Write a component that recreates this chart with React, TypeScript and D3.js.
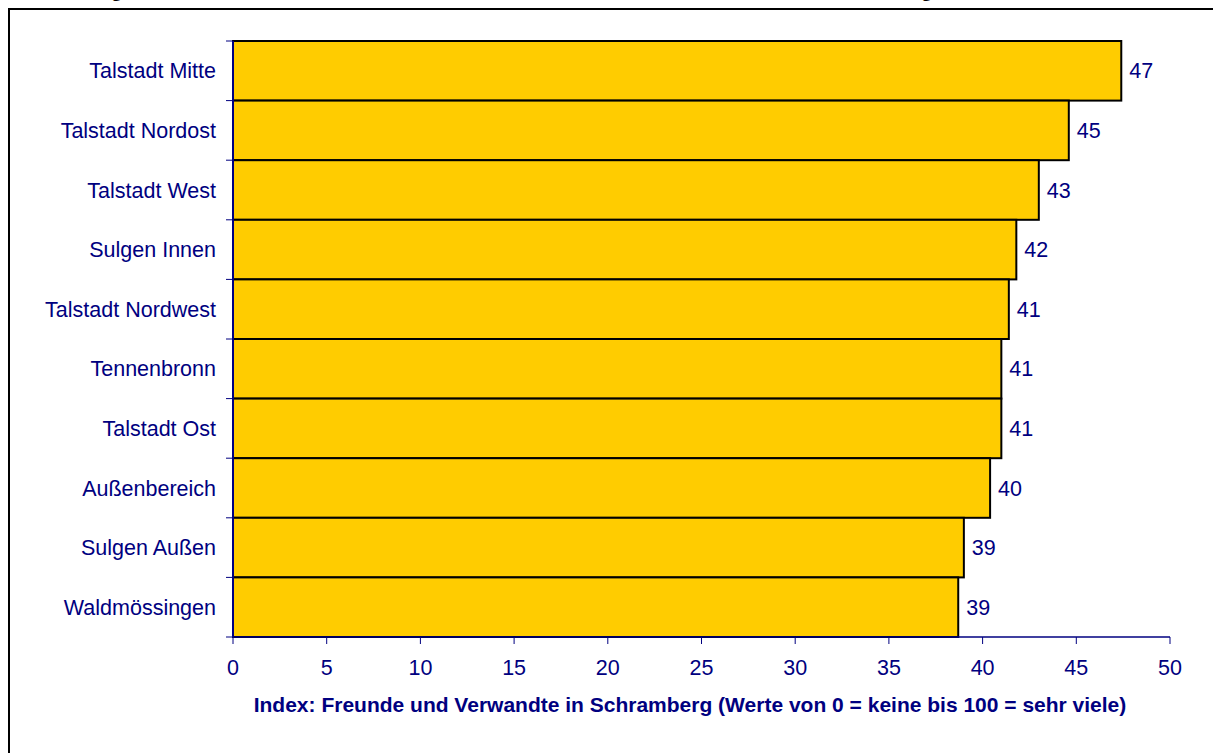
import React from "react";
import * as d3 from "d3";

const categories = [
  "Talstadt Mitte",
  "Talstadt Nordost",
  "Talstadt West",
  "Sulgen Innen",
  "Talstadt Nordwest",
  "Tennenbronn",
  "Talstadt Ost",
  "Außenbereich",
  "Sulgen Außen",
  "Waldmössingen",
];
const values = [47.4, 44.6, 43.0, 41.8, 41.4, 41.0, 41.0, 40.4, 39.0, 38.7];
const xTicks = [0, 5, 10, 15, 20, 25, 30, 35, 40, 45, 50];
const axisTitle =
  "Index: Freunde und Verwandte in Schramberg (Werte von 0 = keine bis 100 = sehr viele)";

const W = 1213;
const H = 753;
const left = 233;
const right = 1170;
const top = 41;
const bottom = 637;
const navy = "#000080";
const font = "Liberation Sans, Arial, sans-serif";
const fs = 21.5;

export default function App() {
  const x = d3.scaleLinear().domain([0, 50]).range([left, right]);
  const y = d3.scaleBand<string>().domain(categories).range([top, bottom]).padding(0);
  const bw = y.bandwidth();
  const bounds = d3.range(categories.length + 1).map((i) => top + i * bw);

  return (
    <svg
      width={W}
      height={H}
      style={{ position: "absolute", left: 0, top: 0, display: "block" }}
    >
      <rect x={0} y={0} width={W} height={H} fill="#fff" />
      {/* cut-off title descenders */}
      <text x={112} y={-3} fontFamily="Liberation Serif, serif" fontWeight="bold" fontSize={18}>g</text>
      <text x={922} y={-3} fontFamily="Liberation Serif, serif" fontWeight="bold" fontSize={18}>g</text>
      {/* frame */}
      <rect x={9} y={9} width={W + 20} height={H + 20} fill="none" stroke="#000" strokeWidth={2} />

      {/* bars */}
      {categories.map((c, i) => (
        <rect
          key={c}
          x={x(0)}
          y={y(c)!}
          width={x(values[i]) - x(0)}
          height={bw}
          fill="#FFCC00"
          stroke="#000"
          strokeWidth={2}
        />
      ))}

      {/* y axis */}
      <line x1={left} x2={left} y1={top} y2={bottom} stroke={navy} strokeWidth={2} />
      {bounds.map((b, i) => (
        <line key={i} x1={left - 7} x2={left} y1={b} y2={b} stroke={navy} strokeWidth={1} />
      ))}
      {categories.map((c) => (
        <text
          key={c}
          x={216}
          y={y(c)! + bw / 2}
          dy="0.35em"
          textAnchor="end"
          fill={navy}
          fontFamily={font}
          fontSize={fs}
        >
          {c}
        </text>
      ))}

      {/* x axis */}
      <line x1={left} x2={right} y1={bottom} y2={bottom} stroke={navy} strokeWidth={1.5} />
      {xTicks.map((t) => (
        <g key={t}>
          <line x1={x(t)} x2={x(t)} y1={bottom} y2={bottom + 7} stroke={navy} strokeWidth={1} />
          <text
            x={x(t)}
            y={675}
            textAnchor="middle"
            fill={navy}
            fontFamily={font}
            fontSize={fs}
          >
            {t}
          </text>
        </g>
      ))}
      <text
        x={690}
        y={712}
        textAnchor="middle"
        fill={navy}
        fontFamily={font}
        fontSize={21}
        fontWeight="bold"
      >
        {axisTitle}
      </text>

      {/* value labels */}
      {categories.map((c, i) => (
        <text
          key={c}
          x={x(values[i]) + 8}
          y={y(c)! + bw / 2}
          dy="0.35em"
          fill={navy}
          fontFamily={font}
          fontSize={fs}
        >
          {d3.format(".0f")(values[i])}
        </text>
      ))}
    </svg>
  );
}
